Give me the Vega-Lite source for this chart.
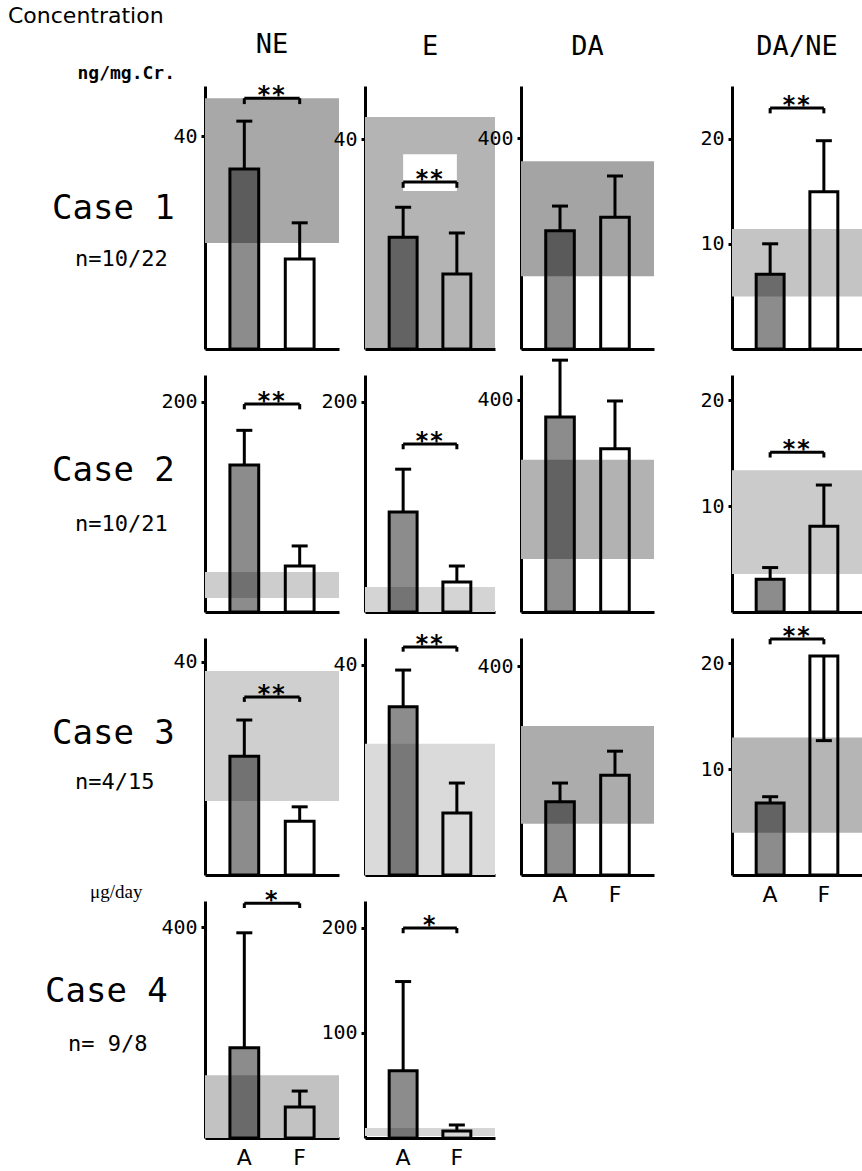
{
"$schema": "https://vega.github.io/schema/vega-lite/v6.json",
"padding": {"left": 0, "top": 5, "right": 0, "bottom": 0},
"config": {
 "view": {"stroke": null},
 "axis": {"domainColor": "black", "domainWidth": 3, "tickColor": "black", "tickWidth": 3, "tickSize": 4, "labelFont": "DejaVu Sans Mono", "labelFontSize": 20, "labelColor": "black", "grid": false, "labelPadding": 4},
 "axisX": {"ticks": false, "labelAngle": 0, "labelFont": "DejaVu Sans", "labelFontSize": 22, "labelPadding": 9},
 "title": {"font": "DejaVu Sans Mono", "fontSize": 27, "fontWeight": "normal", "color": "black", "offset": 25, "anchor": "middle", "baseline": "alphabetic"},
 "text": {"color": "black"}
},
"datasets": {
 "cases": [
  {"r": 1, "c": "Case 1", "n": "n=10/22"},
  {"r": 2, "c": "Case 2", "n": "n=10/21"},
  {"r": 3, "c": "Case 3", "n": "n=4/15"},
  {"r": 4, "c": "Case 4", "n": "n= 9/8"}
 ],
 "bars": [
  {"p":"1NE","g":"A","mean":33.8,"err":42.8},{"p":"1NE","g":"F","mean":16.9,"err":23.7},
  {"p":"1E","g":"A","mean":21.3,"err":27.0},{"p":"1E","g":"F","mean":14.3,"err":22.1},
  {"p":"1DA","g":"A","mean":224,"err":271},{"p":"1DA","g":"F","mean":250,"err":328},
  {"p":"1DN","g":"A","mean":7.1,"err":10.0},{"p":"1DN","g":"F","mean":14.95,"err":19.8},
  {"p":"2NE","g":"A","mean":140,"err":173},{"p":"2NE","g":"F","mean":43.8,"err":62.9},
  {"p":"2E","g":"A","mean":95.2,"err":136},{"p":"2E","g":"F","mean":28.6,"err":43.8},
  {"p":"2DA","g":"A","mean":368,"err":475},{"p":"2DA","g":"F","mean":308,"err":398},
  {"p":"2DN","g":"A","mean":3.1,"err":4.2},{"p":"2DN","g":"F","mean":8.1,"err":12.0},
  {"p":"3NE","g":"A","mean":22.3,"err":29.1},{"p":"3NE","g":"F","mean":10.1,"err":12.8},
  {"p":"3E","g":"A","mean":32.0,"err":39.0},{"p":"3E","g":"F","mean":11.8,"err":17.5},
  {"p":"3DA","g":"A","mean":140,"err":176},{"p":"3DA","g":"F","mean":191,"err":237},
  {"p":"3DN","g":"A","mean":6.8,"err":7.4},{"p":"3DN","g":"F","mean":20.7,"err":12.7},
  {"p":"4NE","g":"A","mean":171,"err":389},{"p":"4NE","g":"F","mean":59,"err":89},
  {"p":"4E","g":"A","mean":64,"err":149},{"p":"4E","g":"F","mean":6.7,"err":12.4}
 ],
 "bands": [
  {"p":"1NE","lo":19.9,"hi":47.1},{"p":"1E","lo":0,"hi":44.2},{"p":"1DA","lo":138,"hi":356},{"p":"1DN","lo":5.0,"hi":11.4},
  {"p":"2NE","lo":13.3,"hi":38},{"p":"2E","lo":0,"hi":23.8},{"p":"2DA","lo":100,"hi":287},{"p":"2DN","lo":3.6,"hi":13.4},
  {"p":"3NE","lo":13.9,"hi":38.3},{"p":"3E","lo":0,"hi":25.0},{"p":"3DA","lo":98,"hi":285},{"p":"3DN","lo":4.0,"hi":13.0},
  {"p":"4NE","lo":0,"hi":119},{"p":"4E","lo":1.9,"hi":9.5}
 ],
 "box": [
  {"p":"1E","g1":"A","g2":"F","lo":30.1,"hi":37.1}
 ],
 "br": [
  {"p":"1NE","g":"A","top":47.1,"hook":46.0,"s":"**"},{"p":"1NE","g":"F","top":47.1,"hook":46.0,"s":"**"},
  {"p":"1E","g":"A","top":31.8,"hook":30.7,"s":"**"},{"p":"1E","g":"F","top":31.8,"hook":30.7,"s":"**"},
  {"p":"1DN","g":"A","top":22.9,"hook":22.4,"s":"**"},{"p":"1DN","g":"F","top":22.9,"hook":22.4,"s":"**"},
  {"p":"2NE","g":"A","top":198,"hook":193,"s":"**"},{"p":"2NE","g":"F","top":198,"hook":193,"s":"**"},
  {"p":"2E","g":"A","top":160,"hook":155,"s":"**"},{"p":"2E","g":"F","top":160,"hook":155,"s":"**"},
  {"p":"2DN","g":"A","top":15.1,"hook":14.6,"s":"**"},{"p":"2DN","g":"F","top":15.1,"hook":14.6,"s":"**"},
  {"p":"3NE","g":"A","top":33.4,"hook":32.5,"s":"**"},{"p":"3NE","g":"F","top":33.4,"hook":32.5,"s":"**"},
  {"p":"3E","g":"A","top":43.4,"hook":42.5,"s":"**"},{"p":"3E","g":"F","top":43.4,"hook":42.5,"s":"**"},
  {"p":"3DN","g":"A","top":22.3,"hook":21.8,"s":"**"},{"p":"3DN","g":"F","top":22.3,"hook":21.8,"s":"**"},
  {"p":"4NE","g":"A","top":445,"hook":436,"s":"*"},{"p":"4NE","g":"F","top":445,"hook":436,"s":"*"},
  {"p":"4E","g":"A","top":200,"hook":195,"s":"*"},{"p":"4E","g":"F","top":200,"hook":195,"s":"*"}
 ]
},
"bounds": "flush",
"align": "each",
"columns": 6,
"spacing": 26,
"concat": [
   {"width": 179, "height": 263, "layer": [
    {"data": {"name": "cases"}, "transform": [{"filter": "datum.r===1"}], "mark": {"type": "text", "align": "left", "baseline": "middle", "dx": -37.5, "dy": -8.5, "font": "DejaVu Sans Mono", "fontSize": 34, "color": "black"}, "encoding": {"text": {"field": "c"}}},
    {"data": {"name": "cases"}, "transform": [{"filter": "datum.r===1"}], "mark": {"type": "text", "align": "left", "baseline": "middle", "dx": -14.5, "dy": 41.5, "font": "DejaVu Sans Mono", "fontSize": 22, "color": "black"}, "encoding": {"text": {"field": "n"}}},
    {"data": {"values": [{"t": "Concentration"}]}, "mark": {"type": "text", "align": "left", "baseline": "middle", "dx": -81.5, "dy": -201.5, "font": "DejaVu Sans", "fontSize": 22, "color": "black"}, "encoding": {"text": {"field": "t"}}},
    {"data": {"values": [{"t": "ng/mg.Cr."}]}, "mark": {"type": "text", "align": "right", "baseline": "middle", "dx": 85.5, "dy": -143.5, "font": "DejaVu Sans Mono", "fontSize": 18, "fontWeight": "bold", "color": "black"}, "encoding": {"text": {"field": "t"}}}
   ]},
   {"width": 134, "height": 263, "title": "NE", "layer": [
    {"data": {"name": "bands"}, "transform": [{"filter": "datum.p==='1NE'"}], "mark": {"type": "rect", "fill": "#a8a8a8"},
     "encoding": {"y": {"field": "lo", "type": "quantitative", "title": null, "scale": {"domain": [0, 49.4], "nice": false}, "axis": {"values": [40]}}, "y2": {"field": "hi"}}},
    {"encoding": {"x": {"field": "g", "type": "nominal", "title": null, "scale": {"domain": ["A", "F"], "paddingInner": 0.48, "paddingOuter": 0.45}, "axis": {"labels": false}}},
     "layer": [
      {"data": {"name": "bars"}, "transform": [{"filter": "datum.p==='1NE'"}], "layer": [
       {"mark": {"type": "bar", "stroke": "black", "strokeWidth": 3, "fillOpacity": 0.45}, "encoding": {"y": {"field": "mean", "type": "quantitative", "title": null}, "fill": {"condition": {"test": "datum.g==='A'", "value": "black"}, "value": "transparent"}}},
       {"mark": {"type": "rule", "color": "black", "strokeWidth": 3}, "encoding": {"y": {"field": "mean", "type": "quantitative", "title": null}, "y2": {"field": "err"}}},
       {"mark": {"type": "tick", "color": "black", "thickness": 3, "size": 16, "opacity": 1}, "encoding": {"y": {"field": "err", "type": "quantitative", "title": null}}}
      ]},
      {"data": {"name": "br"}, "transform": [{"filter": "datum.p==='1NE'"}], "layer": [
       {"mark": {"type": "line", "color": "black", "strokeWidth": 3}, "encoding": {"y": {"field": "top", "type": "quantitative", "title": null}}},
       {"mark": {"type": "rule", "color": "black", "strokeWidth": 3}, "encoding": {"y": {"field": "top", "type": "quantitative", "title": null}, "y2": {"field": "hook"}}},
       {"transform": [{"filter": "datum.g==='A'"}], "mark": {"type": "text", "color": "black", "dx": 27, "dy": 5, "baseline": "alphabetic", "font": "DejaVu Sans Mono", "fontSize": 24, "fontWeight": "bold"}, "encoding": {"y": {"field": "top", "type": "quantitative", "title": null}, "text": {"field": "s"}}}
      ]}
     ]}
   ]},
   {"width": 130, "height": 263, "title": "E", "layer": [
    {"data": {"name": "bands"}, "transform": [{"filter": "datum.p==='1E'"}], "mark": {"type": "rect", "fill": "#b4b4b4"},
     "encoding": {"y": {"field": "lo", "type": "quantitative", "title": null, "scale": {"domain": [0, 50.1], "nice": false}, "axis": {"values": [40]}}, "y2": {"field": "hi"}}},
    {"encoding": {"x": {"field": "g", "type": "nominal", "title": null, "scale": {"domain": ["A", "F"], "paddingInner": 0.48, "paddingOuter": 0.45}, "axis": {"labels": false}}},
     "layer": [
      {"data": {"name": "box"}, "transform": [{"filter": "datum.p==='1E'"}], "mark": {"type": "rect", "fill": "white"},
       "encoding": {"x": {"field": "g1", "type": "nominal", "title": null}, "x2": {"field": "g2"}, "y": {"field": "lo", "type": "quantitative", "title": null}, "y2": {"field": "hi"}}},
      {"data": {"name": "bars"}, "transform": [{"filter": "datum.p==='1E'"}], "layer": [
       {"mark": {"type": "bar", "stroke": "black", "strokeWidth": 3, "fillOpacity": 0.45}, "encoding": {"y": {"field": "mean", "type": "quantitative", "title": null}, "fill": {"condition": {"test": "datum.g==='A'", "value": "black"}, "value": "transparent"}}},
       {"mark": {"type": "rule", "color": "black", "strokeWidth": 3}, "encoding": {"y": {"field": "mean", "type": "quantitative", "title": null}, "y2": {"field": "err"}}},
       {"mark": {"type": "tick", "color": "black", "thickness": 3, "size": 16, "opacity": 1}, "encoding": {"y": {"field": "err", "type": "quantitative", "title": null}}}
      ]},
      {"data": {"name": "br"}, "transform": [{"filter": "datum.p==='1E'"}], "layer": [
       {"mark": {"type": "line", "color": "black", "strokeWidth": 3}, "encoding": {"y": {"field": "top", "type": "quantitative", "title": null}}},
       {"mark": {"type": "rule", "color": "black", "strokeWidth": 3}, "encoding": {"y": {"field": "top", "type": "quantitative", "title": null}, "y2": {"field": "hook"}}},
       {"transform": [{"filter": "datum.g==='A'"}], "mark": {"type": "text", "color": "black", "dx": 26, "dy": 5, "baseline": "alphabetic", "font": "DejaVu Sans Mono", "fontSize": 24, "fontWeight": "bold"}, "encoding": {"y": {"field": "top", "type": "quantitative", "title": null}, "text": {"field": "s"}}}
      ]}
     ]}
   ]},
   {"width": 133, "height": 263, "title": "DA", "layer": [
    {"data": {"name": "bands"}, "transform": [{"filter": "datum.p==='1DA'"}], "mark": {"type": "rect", "fill": "#a4a4a4"},
     "encoding": {"y": {"field": "lo", "type": "quantitative", "title": null, "scale": {"domain": [0, 498.6], "nice": false}, "axis": {"values": [400]}}, "y2": {"field": "hi"}}},
    {"encoding": {"x": {"field": "g", "type": "nominal", "title": null, "scale": {"domain": ["A", "F"], "paddingInner": 0.48, "paddingOuter": 0.45}, "axis": {"labels": false}}},
     "layer": [
      {"data": {"name": "bars"}, "transform": [{"filter": "datum.p==='1DA'"}], "layer": [
       {"mark": {"type": "bar", "stroke": "black", "strokeWidth": 3, "fillOpacity": 0.45}, "encoding": {"y": {"field": "mean", "type": "quantitative", "title": null}, "fill": {"condition": {"test": "datum.g==='A'", "value": "black"}, "value": "transparent"}}},
       {"mark": {"type": "rule", "color": "black", "strokeWidth": 3}, "encoding": {"y": {"field": "mean", "type": "quantitative", "title": null}, "y2": {"field": "err"}}},
       {"mark": {"type": "tick", "color": "black", "thickness": 3, "size": 16, "opacity": 1}, "encoding": {"y": {"field": "err", "type": "quantitative", "title": null}}}
      ]}
     ]}
   ]},
   {"width": 26, "height": 263, "data": {"values": []}, "mark": "text", "encoding": {}},
   {"width": 130, "height": 263, "title": "DA/NE", "layer": [
    {"data": {"name": "bands"}, "transform": [{"filter": "datum.p==='1DN'"}], "mark": {"type": "rect", "fill": "#c4c4c4"},
     "encoding": {"y": {"field": "lo", "type": "quantitative", "title": null, "scale": {"domain": [0, 25.0], "nice": false}, "axis": {"values": [10, 20]}}, "y2": {"field": "hi"}}},
    {"encoding": {"x": {"field": "g", "type": "nominal", "title": null, "scale": {"domain": ["A", "F"], "paddingInner": 0.48, "paddingOuter": 0.45}, "axis": {"labels": false}}},
     "layer": [
      {"data": {"name": "bars"}, "transform": [{"filter": "datum.p==='1DN'"}], "layer": [
       {"mark": {"type": "bar", "stroke": "black", "strokeWidth": 3, "fillOpacity": 0.45}, "encoding": {"y": {"field": "mean", "type": "quantitative", "title": null}, "fill": {"condition": {"test": "datum.g==='A'", "value": "black"}, "value": "transparent"}}},
       {"mark": {"type": "rule", "color": "black", "strokeWidth": 3}, "encoding": {"y": {"field": "mean", "type": "quantitative", "title": null}, "y2": {"field": "err"}}},
       {"mark": {"type": "tick", "color": "black", "thickness": 3, "size": 16, "opacity": 1}, "encoding": {"y": {"field": "err", "type": "quantitative", "title": null}}}
      ]},
      {"data": {"name": "br"}, "transform": [{"filter": "datum.p==='1DN'"}], "layer": [
       {"mark": {"type": "line", "color": "black", "strokeWidth": 3}, "encoding": {"y": {"field": "top", "type": "quantitative", "title": null}}},
       {"mark": {"type": "rule", "color": "black", "strokeWidth": 3}, "encoding": {"y": {"field": "top", "type": "quantitative", "title": null}, "y2": {"field": "hook"}}},
       {"transform": [{"filter": "datum.g==='A'"}], "mark": {"type": "text", "color": "black", "dx": 26, "dy": 5, "baseline": "alphabetic", "font": "DejaVu Sans Mono", "fontSize": 24, "fontWeight": "bold"}, "encoding": {"y": {"field": "top", "type": "quantitative", "title": null}, "text": {"field": "s"}}}
      ]}
     ]}
   ]},
   {"width": 179, "height": 237, "layer": [
    {"data": {"name": "cases"}, "transform": [{"filter": "datum.r===2"}], "mark": {"type": "text", "align": "left", "baseline": "middle", "dx": -37.5, "dy": -22.5, "font": "DejaVu Sans Mono", "fontSize": 34, "color": "black"}, "encoding": {"text": {"field": "c"}}},
    {"data": {"name": "cases"}, "transform": [{"filter": "datum.r===2"}], "mark": {"type": "text", "align": "left", "baseline": "middle", "dx": -14.5, "dy": 30.5, "font": "DejaVu Sans Mono", "fontSize": 22, "color": "black"}, "encoding": {"text": {"field": "n"}}}
   ]},
   {"width": 134, "height": 237, "layer": [
    {"data": {"name": "bands"}, "transform": [{"filter": "datum.p==='2NE'"}], "mark": {"type": "rect", "fill": "#cdcdcd"},
     "encoding": {"y": {"field": "lo", "type": "quantitative", "title": null, "scale": {"domain": [0, 225.7], "nice": false}, "axis": {"values": [200]}}, "y2": {"field": "hi"}}},
    {"encoding": {"x": {"field": "g", "type": "nominal", "title": null, "scale": {"domain": ["A", "F"], "paddingInner": 0.48, "paddingOuter": 0.45}, "axis": {"labels": false}}},
     "layer": [
      {"data": {"name": "bars"}, "transform": [{"filter": "datum.p==='2NE'"}], "layer": [
       {"mark": {"type": "bar", "stroke": "black", "strokeWidth": 3, "fillOpacity": 0.45}, "encoding": {"y": {"field": "mean", "type": "quantitative", "title": null}, "fill": {"condition": {"test": "datum.g==='A'", "value": "black"}, "value": "transparent"}}},
       {"mark": {"type": "rule", "color": "black", "strokeWidth": 3}, "encoding": {"y": {"field": "mean", "type": "quantitative", "title": null}, "y2": {"field": "err"}}},
       {"mark": {"type": "tick", "color": "black", "thickness": 3, "size": 16, "opacity": 1}, "encoding": {"y": {"field": "err", "type": "quantitative", "title": null}}}
      ]},
      {"data": {"name": "br"}, "transform": [{"filter": "datum.p==='2NE'"}], "layer": [
       {"mark": {"type": "line", "color": "black", "strokeWidth": 3}, "encoding": {"y": {"field": "top", "type": "quantitative", "title": null}}},
       {"mark": {"type": "rule", "color": "black", "strokeWidth": 3}, "encoding": {"y": {"field": "top", "type": "quantitative", "title": null}, "y2": {"field": "hook"}}},
       {"transform": [{"filter": "datum.g==='A'"}], "mark": {"type": "text", "color": "black", "dx": 27, "dy": 5, "baseline": "alphabetic", "font": "DejaVu Sans Mono", "fontSize": 24, "fontWeight": "bold"}, "encoding": {"y": {"field": "top", "type": "quantitative", "title": null}, "text": {"field": "s"}}}
      ]}
     ]}
   ]},
   {"width": 130, "height": 237, "layer": [
    {"data": {"name": "bands"}, "transform": [{"filter": "datum.p==='2E'"}], "mark": {"type": "rect", "fill": "#d4d4d4"},
     "encoding": {"y": {"field": "lo", "type": "quantitative", "title": null, "scale": {"domain": [0, 225.7], "nice": false}, "axis": {"values": [200]}}, "y2": {"field": "hi"}}},
    {"encoding": {"x": {"field": "g", "type": "nominal", "title": null, "scale": {"domain": ["A", "F"], "paddingInner": 0.48, "paddingOuter": 0.45}, "axis": {"labels": false}}},
     "layer": [
      {"data": {"name": "bars"}, "transform": [{"filter": "datum.p==='2E'"}], "layer": [
       {"mark": {"type": "bar", "stroke": "black", "strokeWidth": 3, "fillOpacity": 0.45}, "encoding": {"y": {"field": "mean", "type": "quantitative", "title": null}, "fill": {"condition": {"test": "datum.g==='A'", "value": "black"}, "value": "transparent"}}},
       {"mark": {"type": "rule", "color": "black", "strokeWidth": 3}, "encoding": {"y": {"field": "mean", "type": "quantitative", "title": null}, "y2": {"field": "err"}}},
       {"mark": {"type": "tick", "color": "black", "thickness": 3, "size": 16, "opacity": 1}, "encoding": {"y": {"field": "err", "type": "quantitative", "title": null}}}
      ]},
      {"data": {"name": "br"}, "transform": [{"filter": "datum.p==='2E'"}], "layer": [
       {"mark": {"type": "line", "color": "black", "strokeWidth": 3}, "encoding": {"y": {"field": "top", "type": "quantitative", "title": null}}},
       {"mark": {"type": "rule", "color": "black", "strokeWidth": 3}, "encoding": {"y": {"field": "top", "type": "quantitative", "title": null}, "y2": {"field": "hook"}}},
       {"transform": [{"filter": "datum.g==='A'"}], "mark": {"type": "text", "color": "black", "dx": 26, "dy": 5, "baseline": "alphabetic", "font": "DejaVu Sans Mono", "fontSize": 24, "fontWeight": "bold"}, "encoding": {"y": {"field": "top", "type": "quantitative", "title": null}, "text": {"field": "s"}}}
      ]}
     ]}
   ]},
   {"width": 133, "height": 237, "layer": [
    {"data": {"name": "bands"}, "transform": [{"filter": "datum.p==='2DA'"}], "mark": {"type": "rect", "fill": "#b2b2b2"},
     "encoding": {"y": {"field": "lo", "type": "quantitative", "title": null, "scale": {"domain": [0, 447], "nice": false}, "axis": {"values": [400]}}, "y2": {"field": "hi"}}},
    {"encoding": {"x": {"field": "g", "type": "nominal", "title": null, "scale": {"domain": ["A", "F"], "paddingInner": 0.48, "paddingOuter": 0.45}, "axis": {"labels": false}}},
     "layer": [
      {"data": {"name": "bars"}, "transform": [{"filter": "datum.p==='2DA'"}], "layer": [
       {"mark": {"type": "bar", "stroke": "black", "strokeWidth": 3, "fillOpacity": 0.45}, "encoding": {"y": {"field": "mean", "type": "quantitative", "title": null}, "fill": {"condition": {"test": "datum.g==='A'", "value": "black"}, "value": "transparent"}}},
       {"mark": {"type": "rule", "color": "black", "strokeWidth": 3}, "encoding": {"y": {"field": "mean", "type": "quantitative", "title": null}, "y2": {"field": "err"}}},
       {"mark": {"type": "tick", "color": "black", "thickness": 3, "size": 16, "opacity": 1}, "encoding": {"y": {"field": "err", "type": "quantitative", "title": null}}}
      ]}
     ]}
   ]},
   {"width": 26, "height": 237, "data": {"values": []}, "mark": "text", "encoding": {}},
   {"width": 130, "height": 237, "layer": [
    {"data": {"name": "bands"}, "transform": [{"filter": "datum.p==='2DN'"}], "mark": {"type": "rect", "fill": "#cbcbcb"},
     "encoding": {"y": {"field": "lo", "type": "quantitative", "title": null, "scale": {"domain": [0, 22.4], "nice": false}, "axis": {"values": [10, 20]}}, "y2": {"field": "hi"}}},
    {"encoding": {"x": {"field": "g", "type": "nominal", "title": null, "scale": {"domain": ["A", "F"], "paddingInner": 0.48, "paddingOuter": 0.45}, "axis": {"labels": false}}},
     "layer": [
      {"data": {"name": "bars"}, "transform": [{"filter": "datum.p==='2DN'"}], "layer": [
       {"mark": {"type": "bar", "stroke": "black", "strokeWidth": 3, "fillOpacity": 0.45}, "encoding": {"y": {"field": "mean", "type": "quantitative", "title": null}, "fill": {"condition": {"test": "datum.g==='A'", "value": "black"}, "value": "transparent"}}},
       {"mark": {"type": "rule", "color": "black", "strokeWidth": 3}, "encoding": {"y": {"field": "mean", "type": "quantitative", "title": null}, "y2": {"field": "err"}}},
       {"mark": {"type": "tick", "color": "black", "thickness": 3, "size": 16, "opacity": 1}, "encoding": {"y": {"field": "err", "type": "quantitative", "title": null}}}
      ]},
      {"data": {"name": "br"}, "transform": [{"filter": "datum.p==='2DN'"}], "layer": [
       {"mark": {"type": "line", "color": "black", "strokeWidth": 3}, "encoding": {"y": {"field": "top", "type": "quantitative", "title": null}}},
       {"mark": {"type": "rule", "color": "black", "strokeWidth": 3}, "encoding": {"y": {"field": "top", "type": "quantitative", "title": null}, "y2": {"field": "hook"}}},
       {"transform": [{"filter": "datum.g==='A'"}], "mark": {"type": "text", "color": "black", "dx": 26, "dy": 5, "baseline": "alphabetic", "font": "DejaVu Sans Mono", "fontSize": 24, "fontWeight": "bold"}, "encoding": {"y": {"field": "top", "type": "quantitative", "title": null}, "text": {"field": "s"}}}
      ]}
     ]}
   ]},
   {"width": 179, "height": 237, "layer": [
    {"data": {"name": "cases"}, "transform": [{"filter": "datum.r===3"}], "mark": {"type": "text", "align": "left", "baseline": "middle", "dx": -37.5, "dy": -22.5, "font": "DejaVu Sans Mono", "fontSize": 34, "color": "black"}, "encoding": {"text": {"field": "c"}}},
    {"data": {"name": "cases"}, "transform": [{"filter": "datum.r===3"}], "mark": {"type": "text", "align": "left", "baseline": "middle", "dx": -14.5, "dy": 25.5, "font": "DejaVu Sans Mono", "fontSize": 22, "color": "black"}, "encoding": {"text": {"field": "n"}}}
   ]},
   {"width": 134, "height": 237, "layer": [
    {"data": {"name": "bands"}, "transform": [{"filter": "datum.p==='3NE'"}], "mark": {"type": "rect", "fill": "#cfcfcf"},
     "encoding": {"y": {"field": "lo", "type": "quantitative", "title": null, "scale": {"domain": [0, 44.5], "nice": false}, "axis": {"values": [40]}}, "y2": {"field": "hi"}}},
    {"encoding": {"x": {"field": "g", "type": "nominal", "title": null, "scale": {"domain": ["A", "F"], "paddingInner": 0.48, "paddingOuter": 0.45}, "axis": {"labels": false}}},
     "layer": [
      {"data": {"name": "bars"}, "transform": [{"filter": "datum.p==='3NE'"}], "layer": [
       {"mark": {"type": "bar", "stroke": "black", "strokeWidth": 3, "fillOpacity": 0.45}, "encoding": {"y": {"field": "mean", "type": "quantitative", "title": null}, "fill": {"condition": {"test": "datum.g==='A'", "value": "black"}, "value": "transparent"}}},
       {"mark": {"type": "rule", "color": "black", "strokeWidth": 3}, "encoding": {"y": {"field": "mean", "type": "quantitative", "title": null}, "y2": {"field": "err"}}},
       {"mark": {"type": "tick", "color": "black", "thickness": 3, "size": 16, "opacity": 1}, "encoding": {"y": {"field": "err", "type": "quantitative", "title": null}}}
      ]},
      {"data": {"name": "br"}, "transform": [{"filter": "datum.p==='3NE'"}], "layer": [
       {"mark": {"type": "line", "color": "black", "strokeWidth": 3}, "encoding": {"y": {"field": "top", "type": "quantitative", "title": null}}},
       {"mark": {"type": "rule", "color": "black", "strokeWidth": 3}, "encoding": {"y": {"field": "top", "type": "quantitative", "title": null}, "y2": {"field": "hook"}}},
       {"transform": [{"filter": "datum.g==='A'"}], "mark": {"type": "text", "color": "black", "dx": 27, "dy": 5, "baseline": "alphabetic", "font": "DejaVu Sans Mono", "fontSize": 24, "fontWeight": "bold"}, "encoding": {"y": {"field": "top", "type": "quantitative", "title": null}, "text": {"field": "s"}}}
      ]}
     ]}
   ]},
   {"width": 130, "height": 237, "layer": [
    {"data": {"name": "bands"}, "transform": [{"filter": "datum.p==='3E'"}], "mark": {"type": "rect", "fill": "#dadada"},
     "encoding": {"y": {"field": "lo", "type": "quantitative", "title": null, "scale": {"domain": [0, 45.1], "nice": false}, "axis": {"values": [40]}}, "y2": {"field": "hi"}}},
    {"encoding": {"x": {"field": "g", "type": "nominal", "title": null, "scale": {"domain": ["A", "F"], "paddingInner": 0.48, "paddingOuter": 0.45}, "axis": {"labels": false}}},
     "layer": [
      {"data": {"name": "bars"}, "transform": [{"filter": "datum.p==='3E'"}], "layer": [
       {"mark": {"type": "bar", "stroke": "black", "strokeWidth": 3, "fillOpacity": 0.45}, "encoding": {"y": {"field": "mean", "type": "quantitative", "title": null}, "fill": {"condition": {"test": "datum.g==='A'", "value": "black"}, "value": "transparent"}}},
       {"mark": {"type": "rule", "color": "black", "strokeWidth": 3}, "encoding": {"y": {"field": "mean", "type": "quantitative", "title": null}, "y2": {"field": "err"}}},
       {"mark": {"type": "tick", "color": "black", "thickness": 3, "size": 16, "opacity": 1}, "encoding": {"y": {"field": "err", "type": "quantitative", "title": null}}}
      ]},
      {"data": {"name": "br"}, "transform": [{"filter": "datum.p==='3E'"}], "layer": [
       {"mark": {"type": "line", "color": "black", "strokeWidth": 3}, "encoding": {"y": {"field": "top", "type": "quantitative", "title": null}}},
       {"mark": {"type": "rule", "color": "black", "strokeWidth": 3}, "encoding": {"y": {"field": "top", "type": "quantitative", "title": null}, "y2": {"field": "hook"}}},
       {"transform": [{"filter": "datum.g==='A'"}], "mark": {"type": "text", "color": "black", "dx": 26, "dy": 5, "baseline": "alphabetic", "font": "DejaVu Sans Mono", "fontSize": 24, "fontWeight": "bold"}, "encoding": {"y": {"field": "top", "type": "quantitative", "title": null}, "text": {"field": "s"}}}
      ]}
     ]}
   ]},
   {"width": 133, "height": 237, "layer": [
    {"data": {"name": "bands"}, "transform": [{"filter": "datum.p==='3DA'"}], "mark": {"type": "rect", "fill": "#acacac"},
     "encoding": {"y": {"field": "lo", "type": "quantitative", "title": null, "scale": {"domain": [0, 453.6], "nice": false}, "axis": {"values": [400]}}, "y2": {"field": "hi"}}},
    {"encoding": {"x": {"field": "g", "type": "nominal", "title": null, "scale": {"domain": ["A", "F"], "paddingInner": 0.48, "paddingOuter": 0.45}, "axis": {"labels": true}}},
     "layer": [
      {"data": {"name": "bars"}, "transform": [{"filter": "datum.p==='3DA'"}], "layer": [
       {"mark": {"type": "bar", "stroke": "black", "strokeWidth": 3, "fillOpacity": 0.45}, "encoding": {"y": {"field": "mean", "type": "quantitative", "title": null}, "fill": {"condition": {"test": "datum.g==='A'", "value": "black"}, "value": "transparent"}}},
       {"mark": {"type": "rule", "color": "black", "strokeWidth": 3}, "encoding": {"y": {"field": "mean", "type": "quantitative", "title": null}, "y2": {"field": "err"}}},
       {"mark": {"type": "tick", "color": "black", "thickness": 3, "size": 16, "opacity": 1}, "encoding": {"y": {"field": "err", "type": "quantitative", "title": null}}}
      ]}
     ]}
   ]},
   {"width": 26, "height": 237, "data": {"values": []}, "mark": "text", "encoding": {}},
   {"width": 130, "height": 237, "layer": [
    {"data": {"name": "bands"}, "transform": [{"filter": "datum.p==='3DN'"}], "mark": {"type": "rect", "fill": "#b5b5b5"},
     "encoding": {"y": {"field": "lo", "type": "quantitative", "title": null, "scale": {"domain": [0, 22.4], "nice": false}, "axis": {"values": [10, 20]}}, "y2": {"field": "hi"}}},
    {"encoding": {"x": {"field": "g", "type": "nominal", "title": null, "scale": {"domain": ["A", "F"], "paddingInner": 0.48, "paddingOuter": 0.45}, "axis": {"labels": true}}},
     "layer": [
      {"data": {"name": "bars"}, "transform": [{"filter": "datum.p==='3DN'"}], "layer": [
       {"mark": {"type": "bar", "stroke": "black", "strokeWidth": 3, "fillOpacity": 0.45}, "encoding": {"y": {"field": "mean", "type": "quantitative", "title": null}, "fill": {"condition": {"test": "datum.g==='A'", "value": "black"}, "value": "transparent"}}},
       {"mark": {"type": "rule", "color": "black", "strokeWidth": 3}, "encoding": {"y": {"field": "mean", "type": "quantitative", "title": null}, "y2": {"field": "err"}}},
       {"mark": {"type": "tick", "color": "black", "thickness": 3, "size": 16, "opacity": 1}, "encoding": {"y": {"field": "err", "type": "quantitative", "title": null}}}
      ]},
      {"data": {"name": "br"}, "transform": [{"filter": "datum.p==='3DN'"}], "layer": [
       {"mark": {"type": "line", "color": "black", "strokeWidth": 3}, "encoding": {"y": {"field": "top", "type": "quantitative", "title": null}}},
       {"mark": {"type": "rule", "color": "black", "strokeWidth": 3}, "encoding": {"y": {"field": "top", "type": "quantitative", "title": null}, "y2": {"field": "hook"}}},
       {"transform": [{"filter": "datum.g==='A'"}], "mark": {"type": "text", "color": "black", "dx": 26, "dy": 5, "baseline": "alphabetic", "font": "DejaVu Sans Mono", "fontSize": 24, "fontWeight": "bold"}, "encoding": {"y": {"field": "top", "type": "quantitative", "title": null}, "text": {"field": "s"}}}
      ]}
     ]}
   ]},
   {"width": 179, "height": 237, "layer": [
    {"data": {"name": "cases"}, "transform": [{"filter": "datum.r===4"}], "mark": {"type": "text", "align": "left", "baseline": "middle", "dx": -44.5, "dy": -27.5, "font": "DejaVu Sans Mono", "fontSize": 34, "color": "black"}, "encoding": {"text": {"field": "c"}}},
    {"data": {"name": "cases"}, "transform": [{"filter": "datum.r===4"}], "mark": {"type": "text", "align": "left", "baseline": "middle", "dx": -21.5, "dy": 24.5, "font": "DejaVu Sans Mono", "fontSize": 22, "color": "black"}, "encoding": {"text": {"field": "n"}}},
    {"data": {"values": [{"t": "μg/day"}]}, "mark": {"type": "text", "align": "left", "baseline": "middle", "dx": 0.5, "dy": -127.5, "font": "Liberation Serif", "fontSize": 19, "color": "black"}, "encoding": {"text": {"field": "t"}}}
   ]},
   {"width": 134, "height": 237, "layer": [
    {"data": {"name": "bands"}, "transform": [{"filter": "datum.p==='4NE'"}], "mark": {"type": "rect", "fill": "#c2c2c2"},
     "encoding": {"y": {"field": "lo", "type": "quantitative", "title": null, "scale": {"domain": [0, 449.3], "nice": false}, "axis": {"values": [400]}}, "y2": {"field": "hi"}}},
    {"encoding": {"x": {"field": "g", "type": "nominal", "title": null, "scale": {"domain": ["A", "F"], "paddingInner": 0.48, "paddingOuter": 0.45}, "axis": {"labels": true}}},
     "layer": [
      {"data": {"name": "bars"}, "transform": [{"filter": "datum.p==='4NE'"}], "layer": [
       {"mark": {"type": "bar", "stroke": "black", "strokeWidth": 3, "fillOpacity": 0.45}, "encoding": {"y": {"field": "mean", "type": "quantitative", "title": null}, "fill": {"condition": {"test": "datum.g==='A'", "value": "black"}, "value": "transparent"}}},
       {"mark": {"type": "rule", "color": "black", "strokeWidth": 3}, "encoding": {"y": {"field": "mean", "type": "quantitative", "title": null}, "y2": {"field": "err"}}},
       {"mark": {"type": "tick", "color": "black", "thickness": 3, "size": 16, "opacity": 1}, "encoding": {"y": {"field": "err", "type": "quantitative", "title": null}}}
      ]},
      {"data": {"name": "br"}, "transform": [{"filter": "datum.p==='4NE'"}], "layer": [
       {"mark": {"type": "line", "color": "black", "strokeWidth": 3}, "encoding": {"y": {"field": "top", "type": "quantitative", "title": null}}},
       {"mark": {"type": "rule", "color": "black", "strokeWidth": 3}, "encoding": {"y": {"field": "top", "type": "quantitative", "title": null}, "y2": {"field": "hook"}}},
       {"transform": [{"filter": "datum.g==='A'"}], "mark": {"type": "text", "color": "black", "dx": 27, "dy": 5, "baseline": "alphabetic", "font": "DejaVu Sans Mono", "fontSize": 24, "fontWeight": "bold"}, "encoding": {"y": {"field": "top", "type": "quantitative", "title": null}, "text": {"field": "s"}}}
      ]}
     ]}
   ]},
   {"width": 130, "height": 237, "layer": [
    {"data": {"name": "bands"}, "transform": [{"filter": "datum.p==='4E'"}], "mark": {"type": "rect", "fill": "#d6d6d6"},
     "encoding": {"y": {"field": "lo", "type": "quantitative", "title": null, "scale": {"domain": [0, 225.7], "nice": false}, "axis": {"values": [100, 200]}}, "y2": {"field": "hi"}}},
    {"encoding": {"x": {"field": "g", "type": "nominal", "title": null, "scale": {"domain": ["A", "F"], "paddingInner": 0.48, "paddingOuter": 0.45}, "axis": {"labels": true}}},
     "layer": [
      {"data": {"name": "bars"}, "transform": [{"filter": "datum.p==='4E'"}], "layer": [
       {"mark": {"type": "bar", "stroke": "black", "strokeWidth": 3, "fillOpacity": 0.45}, "encoding": {"y": {"field": "mean", "type": "quantitative", "title": null}, "fill": {"condition": {"test": "datum.g==='A'", "value": "black"}, "value": "transparent"}}},
       {"mark": {"type": "rule", "color": "black", "strokeWidth": 3}, "encoding": {"y": {"field": "mean", "type": "quantitative", "title": null}, "y2": {"field": "err"}}},
       {"mark": {"type": "tick", "color": "black", "thickness": 3, "size": 16, "opacity": 1}, "encoding": {"y": {"field": "err", "type": "quantitative", "title": null}}}
      ]},
      {"data": {"name": "br"}, "transform": [{"filter": "datum.p==='4E'"}], "layer": [
       {"mark": {"type": "line", "color": "black", "strokeWidth": 3}, "encoding": {"y": {"field": "top", "type": "quantitative", "title": null}}},
       {"mark": {"type": "rule", "color": "black", "strokeWidth": 3}, "encoding": {"y": {"field": "top", "type": "quantitative", "title": null}, "y2": {"field": "hook"}}},
       {"transform": [{"filter": "datum.g==='A'"}], "mark": {"type": "text", "color": "black", "dx": 26, "dy": 5, "baseline": "alphabetic", "font": "DejaVu Sans Mono", "fontSize": 24, "fontWeight": "bold"}, "encoding": {"y": {"field": "top", "type": "quantitative", "title": null}, "text": {"field": "s"}}}
      ]}
     ]}
   ]}
]
}
